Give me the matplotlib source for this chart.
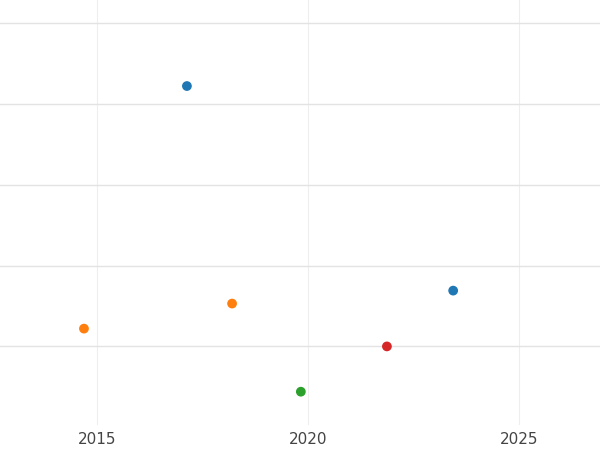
import matplotlib
matplotlib.use('Agg')
import matplotlib.pyplot as plt

years = [2017.13, 2023.44, 2014.69, 2018.20, 2019.83, 2021.87]
values = [4.22, 1.69, 1.22, 1.53, 0.44, 1.00]
colors = ['#1f77b4', '#1f77b4', '#ff7f0e', '#ff7f0e', '#2ca02c', '#d62728']

fig = plt.figure(figsize=(6, 4.5), dpi=100)
ax = fig.add_axes([0, 0.055, 1, 0.945])
ax.scatter(years, values, c=colors, s=36, zorder=3)

ax.set_xlim(2012.70, 2026.92)
ax.set_ylim(0.025, 5.284)
ax.set_xticks([2015, 2020, 2025])
ax.set_yticks([1, 2, 3, 4, 5])
ax.set_yticklabels([])
ax.tick_params(length=0, labelsize=11, labelcolor='#444444', pad=5)
ax.grid(axis='x', color='#eeeeee', linewidth=0.8)
ax.grid(axis='y', color='#e3e3e3', linewidth=1.0)
for s in ax.spines.values():
    s.set_visible(False)

fig.savefig('out.png')
